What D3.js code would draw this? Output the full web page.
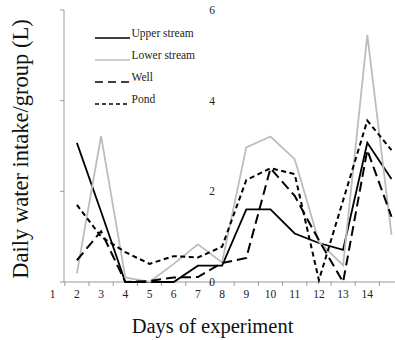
<!DOCTYPE html>
<html><head><meta charset="utf-8">
<script src="https://cdn.jsdelivr.net/npm/d3@7"></script>
<style>html,body{margin:0;padding:0;background:#fff;}svg{display:block;}</style>
</head><body>
<svg id="c" width="395" height="340"></svg>
<script>
const axisDays = [1,2,3,4,5,6,7,8,9,10,11,12,13,14,15];
const tickLabels = ["1","2","3","4","5","6","7","8","9","10","11","12","13","14"];
const days = [2,3,4,5,6,7,8,9,10,11,12,13,14,15];
const upperStream = [3.07,1.55,0,0,0,0.36,0.36,1.60,1.60,1.07,0.86,0.71,3.07,2.27];
const lowerStream = [0.19,3.22,0.10,0.0,0.40,0.83,0.43,2.97,3.21,2.71,0.89,0.37,5.45,1.04];
const well = [0.48,1.12,0,0.02,0.10,0.11,0.42,0.53,2.51,1.90,0.92,0,2.91,1.44];
const pond = [1.70,1.00,0.66,0.40,0.57,0.54,0.78,2.25,2.51,2.38,0.04,1.80,3.56,2.91];
const yTicks = [0,2,4,6];
const seriesNames = ["Upper stream","Lower stream","Well","Pond"];

const svg = d3.select("#c");
const font = "Liberation Serif";
const x = d3.scaleBand().domain(axisDays).range([40.6, 403.6]).padding(0);
const y = d3.scaleLinear().domain([0,6]).range([282, 10]);
const cx = d => x(d) + x.bandwidth()/2;

const axisColor = "#9a9a9a";
svg.append("line").attr("x1",64).attr("x2",64).attr("y1",y(6)).attr("y2",y(0))
  .attr("stroke",axisColor).attr("stroke-width",1);
svg.selectAll(".yt").data(yTicks).enter().append("line")
  .attr("x1",60).attr("x2",64).attr("y1",d=>y(d)).attr("y2",d=>y(d))
  .attr("stroke",axisColor).attr("stroke-width",1);

svg.append("line").attr("x1",64).attr("x2",395).attr("y1",y(0)).attr("y2",y(0))
  .attr("stroke",axisColor).attr("stroke-width",1);
svg.selectAll(".xt").data(days).enter().append("line")
  .attr("x1",d=>x(d)).attr("x2",d=>x(d)).attr("y1",y(0)).attr("y2",y(0)+4)
  .attr("stroke",axisColor).attr("stroke-width",1);
svg.selectAll(".xl").data(tickLabels).enter().append("text")
  .attr("x",d=>cx(+d)).attr("y",298)
  .attr("text-anchor","middle").attr("font-family",font).attr("font-size",11.5)
  .attr("fill","#222").text(d=>d);

const series = [
  {name:seriesNames[0], vals:upperStream, color:"#000", dash:null, w:1.8},
  {name:seriesNames[1], vals:lowerStream, color:"#bdbdbd", dash:null, w:1.8},
  {name:seriesNames[2], vals:well, color:"#000", dash:"10,5", w:2},
  {name:seriesNames[3], vals:pond, color:"#000", dash:"5,3.5", w:2}
];
const line = d3.line().x((d,i)=>cx(days[i])).y(d=>y(d));
series.forEach(s=>{
  svg.append("path").attr("d",line(s.vals)).attr("fill","none")
    .attr("stroke",s.color).attr("stroke-width",s.w)
    .attr("stroke-dasharray",s.dash).attr("stroke-linejoin","miter");
});

svg.selectAll(".yl").data(yTicks).enter().append("text")
  .attr("x",212).attr("y",d=>y(d)+4).attr("text-anchor","middle")
  .attr("font-family",font).attr("font-size",11.5).attr("fill","#222").text(d=>d);

const legY = [38,60,82,104];
const legDash = [null,null,"8,5","4,3"];
series.forEach((s,i)=>{
  svg.append("line").attr("x1",95).attr("x2",130).attr("y1",legY[i]).attr("y2",legY[i])
    .attr("stroke",s.color).attr("stroke-width",1.5).attr("stroke-dasharray",legDash[i]);
  svg.append("text").attr("x",131.5).attr("y",legY[i]-1.5)
    .attr("font-family",font).attr("font-size",11.5).attr("fill","#222").text(s.name);
});

svg.append("text").attr("transform","translate(28,149) rotate(-90)")
  .attr("text-anchor","middle").attr("font-family",font).attr("font-size",22.5)
  .attr("fill","#111").text("Daily water intake/group (L)");
svg.append("text").attr("x",212.5).attr("y",333).attr("text-anchor","middle")
  .attr("font-family",font).attr("font-size",20.5).attr("fill","#111").text("Days of experiment");
</script>
</body></html>
